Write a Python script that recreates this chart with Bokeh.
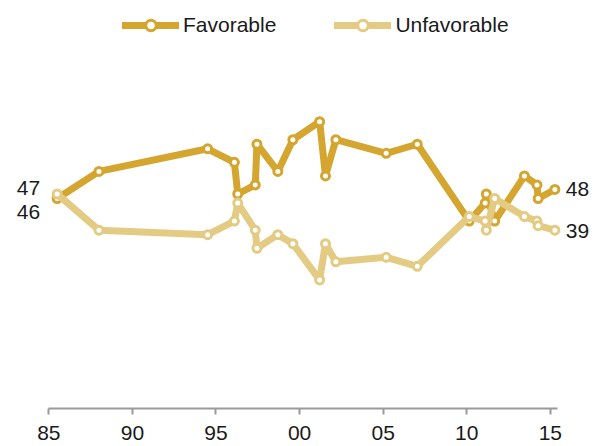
from bokeh.plotting import figure
from bokeh.models import Range1d, FixedTicker, Legend, LegendItem
from bokeh.core.properties import value
from bokeh.embed import file_html
from bokeh.resources import INLINE

# Survey dates (decimal years) and shares (%)
dates = [1985.5, 1988.0, 1994.5, 1996.1, 1996.3, 1997.35, 1997.45, 1998.7,
         1999.6, 2001.2, 2001.55, 2002.17, 2005.18, 2007.04, 2010.15,
         2011.1, 2011.17, 2011.67, 2013.45, 2014.2, 2014.27, 2015.27]
favorable = [46, 52, 57, 54, 47, 49, 58, 52, 59, 63, 51, 59, 56, 58, 41,
             45, 47, 41, 51, 49, 46, 48]
unfavorable = [47, 39, 38, 41, 45, 39, 35, 38, 36, 28, 36, 32, 33, 31, 42,
               41, 39, 46, 42, 41, 40, 39]
series_names = ["Favorable", "Unfavorable"]
tick_years = [1985, 1990, 1995, 2000, 2005, 2010, 2015]
tick_labels = ["85", "90", "95", "00", "05", "10", "15"]

FAV = "#D4A62F"
UNF = "#E4CB83"
FONT = "Liberation Sans"
TXT = "#1a1a1a"

p = figure(width=600, height=446, output_backend="svg", toolbar_location=None,
           x_range=Range1d(1982.11, 2018.0), y_range=Range1d(-0.45, 89.8),
           y_axis_location=None,
           min_border_left=0, min_border_right=0, min_border_top=0,
           min_border_bottom=38)
p.outline_line_color = None
p.grid.visible = False
p.background_fill_color = "white"
p.border_fill_color = "white"

ax = p.xaxis[0]
ax.bounds = (tick_years[0], 2015.4)
ax.ticker = FixedTicker(ticks=tick_years)
ax.major_label_overrides = {y: l for y, l in zip(tick_years, tick_labels)}
ax.minor_tick_line_color = None
ax.axis_line_color = "#9a9a9a"
ax.axis_line_width = 2
ax.major_tick_line_color = "#9a9a9a"
ax.major_tick_line_width = 2
ax.major_tick_in = 0
ax.major_tick_out = 6
ax.major_label_standoff = 11
ax.major_label_text_font = FONT
ax.major_label_text_font_size = "21px"
ax.major_label_text_color = TXT

fav_line = p.line(dates, favorable, line_color=FAV, line_width=7,
                  line_join="round", line_cap="round")
fav_pts = p.scatter(dates, favorable, size=8, fill_color="white",
                    line_color=FAV, line_width=3)
unf_line = p.line(dates, unfavorable, line_color=UNF, line_width=7,
                  line_join="round", line_cap="round")
unf_pts = p.scatter(dates, unfavorable, size=8, fill_color="white",
                    line_color=UNF, line_width=3)

label_kw = dict(text_font=value(FONT), text_font_size="21px",
                text_color=TXT, text_baseline="middle")
p.text(x=[dates[0]], y=[unfavorable[0]], text=[str(unfavorable[0])],
       x_offset=-17, y_offset=-6, text_align="right", **label_kw)
p.text(x=[dates[0]], y=[favorable[0]], text=[str(favorable[0])],
       x_offset=-17, y_offset=13, text_align="right", **label_kw)
p.text(x=[dates[-1]], y=[favorable[-1]], text=[str(favorable[-1])],
       x_offset=11, y_offset=0, text_align="left", **label_kw)
p.text(x=[dates[-1]], y=[unfavorable[-1]], text=[str(unfavorable[-1])],
       x_offset=11, y_offset=1, text_align="left", **label_kw)

legend = Legend(items=[
    LegendItem(label=series_names[0], renderers=[fav_line, fav_pts]),
    LegendItem(label=series_names[1], renderers=[unf_line, unf_pts]),
], orientation="horizontal", location=(122, 370), glyph_width=57,
    glyph_height=26, label_standoff=4, spacing=58, label_width=93,
    padding=0, margin=0, border_line_alpha=0, background_fill_alpha=0,
    label_text_font=FONT, label_text_font_size="21px",
    label_text_color=TXT)
p.add_layout(legend)

open("out.html", "w").write(file_html(p, INLINE))
